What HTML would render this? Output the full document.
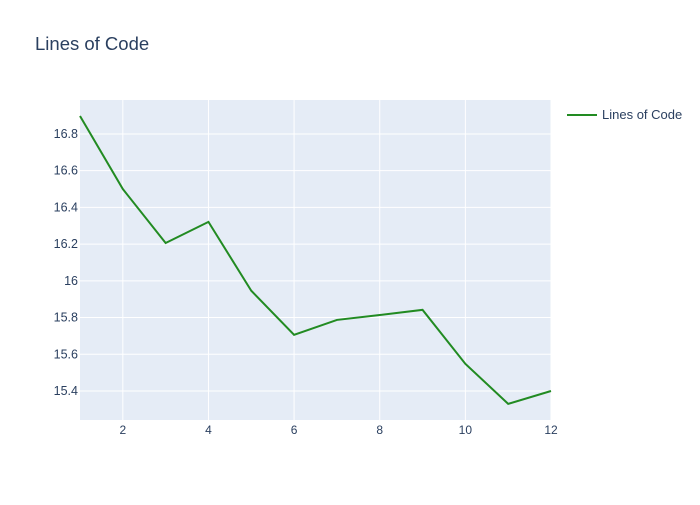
<!DOCTYPE html>
<html><head><meta charset="utf-8"><style>
body{margin:0;background:#fff;font-family:"Liberation Sans",sans-serif}
svg text{font-family:"Liberation Sans",sans-serif;fill:#2a3f5f}
</style></head><body>
<svg id="chart" width="700" height="500">
<rect width="700" height="500" fill="#fff"/>
<text x="35" y="50" font-size="18.5">Lines of Code</text>
<rect x="80" y="100" width="471" height="320" fill="#e5ecf6"/>
<g id="grid"></g><g id="series"></g><g id="ticks"></g>
<g>
<line x1="567" y1="115" x2="597" y2="115" stroke="#228b22" stroke-width="2"/>
<text x="602" y="119" font-size="13">Lines of Code</text>
</g>
</svg>
<script>
const xValues=[1,2,3,4,5,6,7,8,9,10,11,12];
const locValues=[16.898,16.50,16.206,16.321,15.946,15.706,15.787,15.814,15.842,15.548,15.33,15.40];
const xTicks=[2,4,6,8,10,12];
const yTicks=[15.4,15.6,15.8,16,16.2,16.4,16.6,16.8];
const yTickLabels=["15.4","15.6","15.8","16","16.2","16.4","16.6","16.8"];
const ns="http://www.w3.org/2000/svg";
const X=v=>80+(v-1)/11*471;
const Y=v=>420-(v-15.242)/(16.985-15.242)*320;
const grid=document.getElementById('grid'),ticks=document.getElementById('ticks'),series=document.getElementById('series');
function mk(tag,attrs,parent){const e=document.createElementNS(ns,tag);for(const k in attrs)e.setAttribute(k,attrs[k]);parent.appendChild(e);return e;}
xTicks.forEach(t=>{
  const l=mk('line',{x1:X(t),x2:X(t),y1:100,y2:420,stroke:'#fff','stroke-width':1},grid);
  
  
  const tx=mk('text',{x:X(t),y:434,'font-size':12,'text-anchor':'middle'},ticks);
  tx.textContent=t;
  
  
});
yTicks.forEach((t,i)=>{
  const l=mk('line',{x1:80,x2:551,y1:Y(t),y2:Y(t),stroke:'#fff','stroke-width':1},grid);
  
  
  const tx=mk('text',{x:78,y:Y(t)+4,'font-size':12.5,'text-anchor':'end'},ticks);
  tx.textContent=yTickLabels[i];
  
  
});
const p=mk('polyline',{points:xValues.map((x,i)=>X(x)+','+Y(locValues[i])).join(' '),fill:'none',stroke:'#228b22','stroke-width':2},series);


</script>
</body></html>
